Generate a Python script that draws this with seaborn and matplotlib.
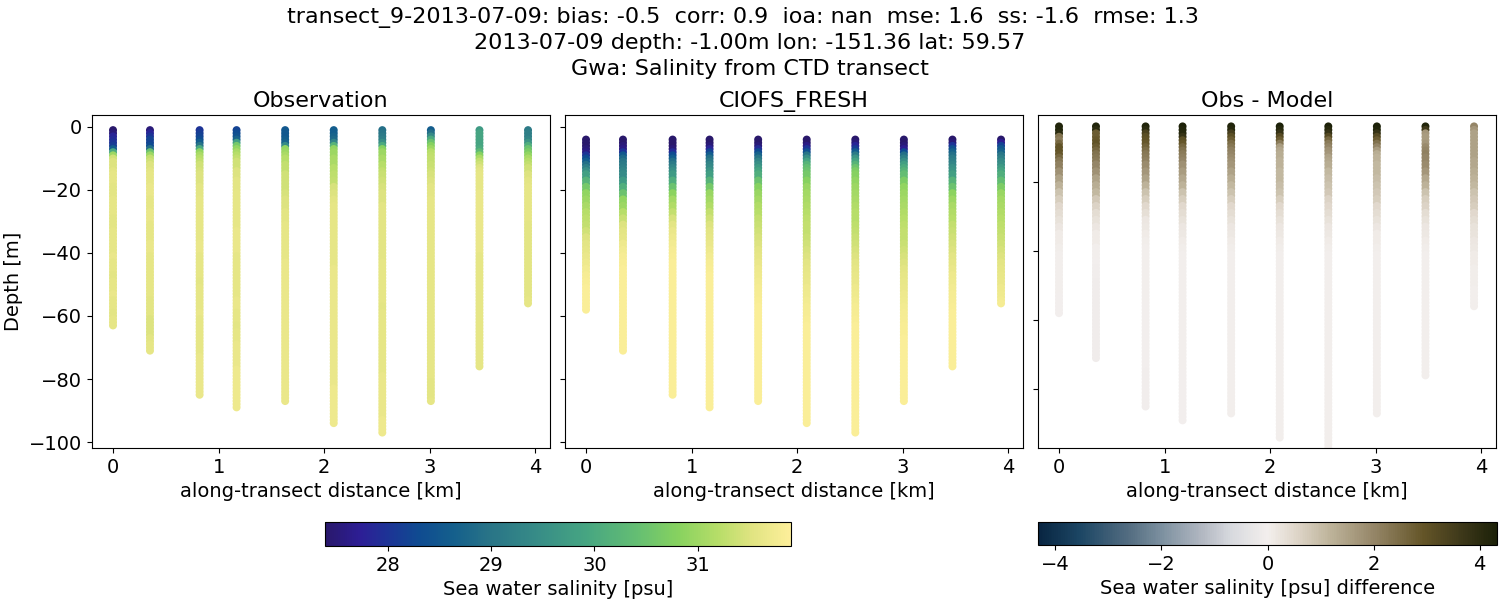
import matplotlib
matplotlib.use('Agg')
import matplotlib.pyplot as plt
from matplotlib.cm import ScalarMappable
from matplotlib.colors import LinearSegmentedColormap, Normalize
import pandas as pd
import seaborn as sns

distance_km = [0.0, 0.35, 0.82, 1.17, 1.63, 2.09, 2.55, 3.01, 3.47, 3.93]
obs_bottom = [63, 71, 85, 89, 87, 94, 97, 87, 76, 56]
model_bottom = [58, 71, 85, 89, 87, 94, 97, 87, 76, 56]

obs_levels = [1, 2, 3, 4, 5, 6, 7, 8, 9, 10, 11, 12, 13, 14,
              15, 17, 19, 21, 23, 25, 27, 29, 31, 33, 35, 37, 39, 41, 43, 45, 47, 49, 51, 53, 55,
              57, 59, 61, 63, 65, 67, 69, 71, 73, 75, 77, 79, 81, 83, 85, 87, 89, 91, 93, 95, 97]
model_levels = [4, 5, 6, 7, 8, 9, 10, 11, 12, 13, 14,
                15, 17, 19, 21, 23, 25, 27, 29, 31, 33, 35, 37, 39, 41, 43, 45, 47, 49, 51, 53, 55,
                57, 59, 61, 63, 65, 67, 69, 71, 73, 75, 77, 79, 81, 83, 85, 87, 89, 91, 93, 95, 97]

# salinity, one list per station, shallow to deep
# each value holds from its level down to the next level
obs_salinity = [
    [27.4, 27.5, 27.8, 27.9, 28.0, 28.1, 28.6, 30.0, 31.0, 31.4, 31.5, 31.5, 31.5, 31.55,
     31.6, 31.6, 31.55, 31.55, 31.6, 31.6, 31.6, 31.55, 31.55, 31.6,
     31.6, 31.6, 31.6, 31.65, 31.6, 31.6, 31.55, 31.6, 31.6, 31.65,
     31.6, 31.6, 31.55, 31.6, 31.6],
    [27.5, 27.8, 28.0, 28.2, 28.2, 28.3, 28.9, 30.5, 31.0, 31.3, 31.4, 31.5, 31.5, 31.55,
     31.6, 31.6, 31.65, 31.65, 31.6, 31.6, 31.65, 31.65, 31.6, 31.6,
     31.6, 31.65, 31.65, 31.6, 31.6, 31.6, 31.6, 31.6, 31.6, 31.6,
     31.55, 31.55, 31.55, 31.5, 31.5, 31.5, 31.55, 31.6, 31.6],
    [28.0, 28.1, 28.2, 28.3, 28.6, 29.0, 30.0, 30.9, 31.1, 31.2, 31.3, 31.4, 31.4, 31.45,
     31.5, 31.5, 31.55, 31.55, 31.6, 31.6, 31.6, 31.6, 31.6, 31.6,
     31.6, 31.65, 31.65, 31.6, 31.6, 31.6, 31.6, 31.55, 31.6, 31.6,
     31.6, 31.6, 31.65, 31.6, 31.6, 31.6, 31.6, 31.6, 31.6, 31.65,
     31.65, 31.65, 31.65, 31.65, 31.65, 31.65],
    [28.2, 28.3, 28.4, 28.7, 29.8, 30.6, 30.9, 31.1, 31.2, 31.3, 31.4, 31.4, 31.4, 31.5,
     31.5, 31.55, 31.55, 31.6, 31.6, 31.6, 31.6, 31.6, 31.6, 31.65,
     31.65, 31.65, 31.65, 31.6, 31.6, 31.6, 31.6, 31.6, 31.6, 31.6,
     31.65, 31.65, 31.6, 31.6, 31.55, 31.6, 31.6, 31.65, 31.65, 31.65,
     31.65, 31.7, 31.7, 31.7, 31.7, 31.7, 31.7, 31.7],
    [28.5, 28.5, 28.5, 28.6, 28.7, 29.4, 30.9, 31.0, 31.1, 31.2, 31.2, 31.3, 31.3, 31.3,
     31.4, 31.4, 31.4, 31.45, 31.5, 31.5, 31.55, 31.55, 31.6, 31.6,
     31.6, 31.6, 31.6, 31.6, 31.65, 31.65, 31.65, 31.65, 31.65, 31.65,
     31.65, 31.65, 31.65, 31.65, 31.65, 31.65, 31.65, 31.65, 31.65, 31.65,
     31.65, 31.65, 31.65, 31.65, 31.65, 31.65, 31.65],
    [28.6, 28.6, 28.7, 28.8, 29.3, 30.2, 30.9, 31.0, 31.0, 31.1, 31.1, 31.1, 31.2, 31.2,
     31.25, 31.3, 31.45, 31.5, 31.55, 31.6, 31.6, 31.6, 31.6, 31.6,
     31.6, 31.6, 31.6, 31.6, 31.6, 31.65, 31.65, 31.65, 31.65, 31.65,
     31.65, 31.65, 31.65, 31.65, 31.65, 31.65, 31.65, 31.65, 31.65, 31.65,
     31.65, 31.65, 31.65, 31.65, 31.7, 31.7, 31.7, 31.7, 31.7, 31.7, 31.7],
    [28.9, 29.0, 29.1, 29.2, 29.5, 30.0, 30.8, 31.0, 31.0, 31.1, 31.1, 31.2, 31.2, 31.3,
     31.35, 31.4, 31.45, 31.5, 31.5, 31.55, 31.55, 31.55, 31.55, 31.55,
     31.55, 31.55, 31.55, 31.55, 31.6, 31.6, 31.6, 31.6, 31.6, 31.6,
     31.6, 31.55, 31.6, 31.6, 31.6, 31.6, 31.6, 31.6, 31.6, 31.6,
     31.6, 31.6, 31.65, 31.65, 31.65, 31.65, 31.65, 31.65, 31.65, 31.7,
     31.7, 31.7],
    [28.6, 28.9, 29.4, 30.0, 30.5, 30.8, 31.0, 31.2, 31.25, 31.3, 31.3, 31.35, 31.35, 31.4,
     31.45, 31.5, 31.55, 31.55, 31.6, 31.6, 31.6, 31.6, 31.6, 31.6,
     31.6, 31.6, 31.6, 31.6, 31.6, 31.6, 31.6, 31.6, 31.6, 31.6,
     31.6, 31.6, 31.6, 31.6, 31.6, 31.6, 31.6, 31.6, 31.6, 31.6,
     31.6, 31.6, 31.6, 31.55, 31.55, 31.55, 31.6],
    [29.7, 29.9, 29.9, 29.9, 29.9, 29.9, 30.0, 30.3, 30.8, 31.1, 31.3, 31.4, 31.5, 31.55,
     31.6, 31.6, 31.6, 31.65, 31.65, 31.65, 31.65, 31.65, 31.65, 31.65,
     31.65, 31.65, 31.65, 31.6, 31.6, 31.6, 31.6, 31.6, 31.6, 31.6,
     31.6, 31.6, 31.6, 31.6, 31.6, 31.6, 31.6, 31.6, 31.6, 31.6,
     31.6, 31.6],
    [29.1, 29.2, 29.2, 29.3, 29.6, 30.1, 30.5, 30.7, 30.9, 31.1, 31.2, 31.3, 31.4, 31.4,
     31.5, 31.55, 31.6, 31.6, 31.6, 31.6, 31.6, 31.6, 31.55, 31.55,
     31.55, 31.55, 31.55, 31.55, 31.55, 31.55, 31.55, 31.55, 31.55, 31.55,
     31.6, 31.6],
]

model_salinity = [
    [27.4, 27.4, 27.4, 27.5, 27.6, 28.0, 28.3, 28.6, 28.9, 29.2, 29.5,
     29.8, 30.2, 30.6, 30.9, 31.0, 31.1, 31.2, 31.25, 31.3, 31.4,
     31.5, 31.55, 31.6, 31.65, 31.7, 31.75, 31.8, 31.82, 31.85, 31.85,
     31.85, 31.85, 31.85],
    [27.4, 27.4, 27.5, 27.6, 28.0, 28.5, 28.8, 29.0, 29.1, 29.2, 29.3,
     29.4, 29.7, 30.1, 30.5, 30.9, 31.0, 31.2, 31.35, 31.5, 31.55,
     31.6, 31.7, 31.75, 31.8, 31.82, 31.85, 31.85, 31.85, 31.85, 31.85,
     31.85, 31.85, 31.85, 31.85, 31.85, 31.85, 31.85, 31.85, 31.85],
    [27.4, 27.4, 27.4, 27.5, 27.9, 28.3, 28.6, 28.9, 29.1, 29.3, 29.5,
     29.7, 30.1, 30.5, 30.85, 31.05, 31.15, 31.3, 31.45, 31.55, 31.65,
     31.7, 31.75, 31.8, 31.82, 31.85, 31.85, 31.85, 31.85, 31.85, 31.85,
     31.85, 31.85, 31.85, 31.85, 31.85, 31.85, 31.85, 31.85, 31.85, 31.85,
     31.85, 31.85, 31.85, 31.85, 31.85, 31.85],
    [27.4, 27.4, 27.5, 27.8, 28.2, 28.6, 28.9, 29.1, 29.3, 29.4, 29.6,
     29.8, 30.2, 30.6, 30.95, 31.05, 31.15, 31.3, 31.4, 31.5, 31.55,
     31.6, 31.65, 31.7, 31.75, 31.8, 31.82, 31.85, 31.85, 31.85, 31.85,
     31.85, 31.85, 31.85, 31.85, 31.85, 31.85, 31.85, 31.85, 31.85, 31.85,
     31.85, 31.85, 31.85, 31.85, 31.85, 31.85, 31.85, 31.85],
    [27.4, 27.4, 27.5, 27.9, 28.3, 28.7, 29.0, 29.3, 29.5, 29.7, 29.9,
     30.1, 30.5, 30.8, 30.95, 31.05, 31.15, 31.2, 31.3, 31.35, 31.4,
     31.45, 31.5, 31.55, 31.6, 31.65, 31.7, 31.72, 31.75, 31.78, 31.8,
     31.82, 31.85, 31.85, 31.85, 31.85, 31.85, 31.85, 31.85, 31.85, 31.85,
     31.85, 31.85, 31.85, 31.85, 31.85, 31.85, 31.85],
    [27.4, 27.4, 27.6, 28.0, 28.4, 29.0, 29.5, 29.9, 30.2, 30.4, 30.5,
     30.6, 30.8, 30.95, 31.05, 31.1, 31.15, 31.2, 31.25, 31.3, 31.3,
     31.35, 31.4, 31.45, 31.5, 31.55, 31.6, 31.62, 31.65, 31.7, 31.72,
     31.75, 31.78, 31.8, 31.82, 31.85, 31.85, 31.85, 31.85, 31.85, 31.85,
     31.85, 31.85, 31.85, 31.85, 31.85, 31.85, 31.85, 31.85, 31.85, 31.85,
     31.85],
    [27.4, 27.5, 27.8, 28.1, 28.6, 29.1, 29.6, 29.9, 30.2, 30.5, 30.7,
     30.8, 30.9, 31.0, 31.05, 31.1, 31.15, 31.2, 31.2, 31.25, 31.3,
     31.35, 31.4, 31.45, 31.5, 31.55, 31.6, 31.62, 31.65, 31.7, 31.72,
     31.75, 31.78, 31.8, 31.82, 31.85, 31.85, 31.85, 31.85, 31.85, 31.85,
     31.85, 31.85, 31.85, 31.85, 31.85, 31.85, 31.85, 31.85, 31.85, 31.85,
     31.85, 31.85],
    [27.4, 27.4, 27.5, 27.7, 28.3, 28.9, 29.2, 29.5, 29.8, 30.0, 30.2,
     30.4, 30.7, 30.9, 31.0, 31.05, 31.1, 31.15, 31.2, 31.25, 31.3,
     31.3, 31.35, 31.4, 31.45, 31.5, 31.55, 31.6, 31.62, 31.65, 31.7,
     31.72, 31.75, 31.78, 31.8, 31.82, 31.82, 31.85, 31.85, 31.85, 31.85,
     31.85, 31.85, 31.85, 31.85, 31.85, 31.85, 31.85],
    [27.4, 27.5, 28.0, 28.4, 28.7, 28.9, 29.1, 29.2, 29.3, 29.5, 29.6,
     29.8, 30.2, 30.5, 30.85, 31.0, 31.1, 31.15, 31.2, 31.3, 31.35,
     31.4, 31.45, 31.5, 31.55, 31.6, 31.65, 31.7, 31.72, 31.75, 31.78,
     31.8, 31.82, 31.85, 31.85, 31.85, 31.85, 31.85, 31.85, 31.85, 31.85,
     31.85, 31.85],
    [27.4, 27.7, 28.2, 28.5, 28.7, 29.0, 29.2, 29.4, 29.5, 29.7, 29.9,
     30.1, 30.4, 30.7, 30.95, 31.05, 31.1, 31.15, 31.2, 31.25, 31.3,
     31.35, 31.4, 31.45, 31.5, 31.55, 31.6, 31.62, 31.65, 31.7, 31.72,
     31.75, 31.78],
]

diff_salinity = [
    [4.2, 4.2, 4.0, 2.4, 2.2, 2.6, 3.0, 3.0, 2.9, 2.6, 2.3,
     2.1, 1.8, 1.5, 1.2, 0.9, 0.7, 0.5, 0.4, 0.3, 0.2,
     0.1, 0.1, 0.05, 0.0, 0.0, 0.0, 0.0, 0.0, 0.0, -0.02,
     -0.02, -0.02, -0.02],
    [4.2, 4.0, 2.8, 2.8, 2.9, 3.0, 2.8, 2.6, 2.4, 2.3, 2.2,
     2.0, 1.8, 1.5, 1.3, 1.1, 0.8, 0.6, 0.4, 0.3, 0.2,
     0.1, 0.1, 0.0, 0.0, -0.02, -0.05, -0.05, -0.08, -0.08, -0.08,
     -0.1, -0.1, -0.1, -0.1, -0.1, -0.1, -0.1, -0.1, -0.1],
    [4.2, 4.0, 3.4, 3.1, 3.0, 2.9, 2.7, 2.5, 2.3, 2.2, 2.1,
     1.9, 1.7, 1.5, 1.2, 0.9, 0.7, 0.5, 0.35, 0.2, 0.15,
     0.1, 0.05, 0.02, 0.02, 0.02, 0.02, 0.0, 0.0, 0.0, 0.0,
     -0.02, -0.02, -0.02, -0.02, -0.02, -0.02, -0.02, -0.02, -0.02, -0.02,
     -0.05, -0.05, -0.05, -0.05, -0.05, -0.05],
    [4.3, 4.2, 4.1, 3.8, 3.1, 2.9, 2.6, 2.4, 2.2, 2.1, 2.0,
     1.8, 1.6, 1.4, 1.2, 0.9, 0.7, 0.5, 0.4, 0.3, 0.2,
     0.15, 0.1, 0.05, 0.02, 0.02, 0.02, 0.02, 0.02, 0.02, 0.02,
     0.0, 0.0, 0.0, 0.0, 0.0, 0.0, 0.0, 0.0, 0.0, 0.0,
     -0.02, -0.02, -0.02, -0.02, -0.02, -0.02, -0.02, -0.02],
    [4.2, 4.1, 3.5, 3.1, 2.8, 2.5, 2.3, 2.1, 2.0, 1.9, 1.8,
     1.7, 1.5, 1.3, 1.1, 0.9, 0.7, 0.5, 0.4, 0.3, 0.2,
     0.15, 0.1, 0.05, 0.02, 0.02, 0.02, 0.02, 0.02, 0.02, 0.02,
     0.0, 0.0, 0.0, 0.0, 0.0, 0.0, 0.0, 0.0, 0.0, 0.0,
     0.0, 0.0, 0.0, 0.0, 0.0, 0.0, 0.0],
    [4.3, 4.1, 3.8, 3.2, 2.8, 2.2, 1.6, 1.4, 1.3, 1.3, 1.2,
     1.2, 1.1, 1.1, 1.0, 0.9, 0.7, 0.5, 0.4, 0.3, 0.2,
     0.15, 0.1, 0.05, 0.02, 0.02, 0.02, 0.02, 0.02, 0.02, 0.02,
     0.0, 0.0, 0.0, 0.0, 0.0, 0.0, 0.0, 0.0, 0.0, 0.0,
     0.0, 0.0, 0.0, 0.0, 0.0, 0.0, 0.0, 0.0, 0.0, 0.0,
     0.0],
    [4.3, 4.1, 3.8, 3.2, 2.6, 2.2, 2.0, 1.8, 1.7, 1.5, 1.4,
     1.3, 1.1, 1.0, 0.9, 0.8, 0.6, 0.5, 0.4, 0.3, 0.2,
     0.15, 0.1, 0.05, 0.02, 0.02, 0.02, 0.02, 0.02, 0.02, 0.02,
     0.0, 0.0, 0.0, 0.0, 0.0, 0.0, 0.0, 0.0, 0.0, 0.0,
     0.0, 0.0, 0.0, 0.0, 0.0, 0.0, 0.0, 0.0, 0.0, 0.0,
     0.0, 0.0],
    [4.3, 4.2, 3.8, 3.2, 2.8, 2.4, 2.0, 1.6, 1.3, 1.2, 1.2,
     1.1, 1.1, 1.0, 0.9, 0.8, 0.7, 0.5, 0.4, 0.3, 0.2,
     0.1, 0.1, 0.05, 0.02, 0.02, 0.02, 0.02, 0.02, 0.02, 0.02,
     0.0, 0.0, 0.0, 0.0, 0.0, 0.0, 0.0, 0.0, 0.0, 0.0,
     0.0, 0.0, 0.0, 0.0, 0.0, 0.0, 0.0],
    [4.2, 3.6, 1.7, 1.6, 1.6, 1.7, 1.9, 2.0, 2.1, 2.0, 2.0,
     1.9, 1.7, 1.4, 1.2, 0.9, 0.7, 0.6, 0.4, 0.3, 0.2,
     0.15, 0.1, 0.05, 0.02, 0.02, 0.02, 0.02, 0.02, 0.02, 0.02,
     0.0, 0.0, 0.0, 0.0, 0.0, 0.0, 0.0, 0.0, 0.0, 0.0,
     0.0, 0.0],
    [2.0, 1.7, 1.5, 1.5, 1.5, 1.5, 1.5, 1.5, 1.5, 1.5, 1.4,
     1.4, 1.3, 1.2, 1.1, 0.9, 0.8, 0.7, 0.5, 0.4, 0.3,
     0.25, 0.2, 0.15, 0.1, 0.1, 0.05, 0.05, 0.05, 0.0, 0.0,
     0.0, 0.0],
]

haline_colors = [(0.0, (41, 24, 107)), (0.075, (45, 30, 150)), (0.13, (30, 50, 150)), (0.2, (15, 75, 145)),
                 (0.275, (20, 95, 140)), (0.35, (40, 115, 135)), (0.455, (55, 140, 135)), (0.56, (70, 165, 130)),
                 (0.67, (100, 190, 115)), (0.76, (135, 210, 95)), (0.85, (185, 222, 105)), (0.92, (225, 228, 130)),
                 (1.0, (253, 239, 154))]
diff_colors = [(0.0, (8, 37, 65)), (0.09, (28, 70, 100)), (0.2, (85, 110, 130)), (0.27, (125, 145, 160)),
               (0.36, (180, 185, 195)), (0.42, (215, 217, 222)), (0.5, (243, 239, 237)), (0.565, (222, 213, 200)),
               (0.636, (190, 180, 155)), (0.73, (150, 135, 105)), (0.84, (100, 85, 40)), (0.927, (60, 55, 25)),
               (1.0, (28, 33, 8))]


def make_cmap(name, stops):
    return LinearSegmentedColormap.from_list(name, [(p, tuple(c / 255 for c in rgb)) for p, rgb in stops], N=256)


def station_table(values, levels, bottoms):
    rows = []
    for dist, bottom, profile in zip(distance_km, bottoms, values):
        depths = levels[:len(profile) - 1] + [bottom]
        ends = depths[1:] + [bottom + 1]
        for start, end, val in zip(depths, ends, profile):
            # one dot a metre so the column comes out solid
            for depth in range(start, end):
                rows.append({'distance': dist, 'depth': -depth, 'value': val})
    return pd.DataFrame(rows)


haline = make_cmap('haline', haline_colors)
diff = make_cmap('diff', diff_colors)
sal_norm = Normalize(27.39, 31.90)
diff_norm = Normalize(-4.33, 4.33)

W, H = 1500, 600
fig = plt.figure(figsize=(15, 6), dpi=100)


def px_axes(left, top, right, bottom):
    return fig.add_axes([left / W, 1 - bottom / H, (right - left) / W, (bottom - top) / H])


ax1 = px_axes(92, 115, 550, 448)
ax2 = px_axes(565, 115, 1023, 448)
ax3 = px_axes(1038, 115, 1496, 448)

panels = [
    (ax1, station_table(obs_salinity, obs_levels, obs_bottom), haline, sal_norm, 'Observation'),
    (ax2, station_table(model_salinity, model_levels, model_bottom), haline, sal_norm, 'CIOFS_FRESH'),
    (ax3, station_table(diff_salinity, model_levels, model_bottom), diff, diff_norm, 'Obs - Model'),
]
for ax, table, cmap, norm, title in panels:
    sns.scatterplot(data=table, x='distance', y='depth', hue='value', palette=cmap, hue_norm=norm,
                    s=33, linewidth=0, legend=False, ax=ax)
    ax.set_xlim(-0.199, 4.138)
    ax.set_xticks([0, 1, 2, 3, 4])
    ax.set_xlabel('along-transect distance [km]', fontsize=14)
    ax.set_ylabel('')
    ax.set_title(title, fontsize=16, pad=6)
    ax.tick_params(labelsize=14)

ax1.set_ylim(-101.9, 3.8)
ax2.set_ylim(-101.9, 3.8)
ax3.set_ylim(-97.0, -0.7)
ax1.set_yticks([0, -20, -40, -60, -80, -100])
ax2.set_yticks([0, -20, -40, -60, -80, -100])
ax3.set_yticks([-20, -40, -60, -80])
ax2.set_yticklabels([])
ax3.set_yticklabels([])
ax1.set_ylabel('Depth [m]', fontsize=14)

cax1 = px_axes(325, 522, 790.5, 546)
cb1 = fig.colorbar(ScalarMappable(norm=sal_norm, cmap=haline), cax=cax1, orientation='horizontal')
cb1.set_ticks([28, 29, 30, 31])
cb1.ax.tick_params(labelsize=14)
cb1.set_label('Sea water salinity [psu]', fontsize=14)

cax2 = px_axes(1038, 522, 1497, 545)
cb2 = fig.colorbar(ScalarMappable(norm=diff_norm, cmap=diff), cax=cax2, orientation='horizontal')
cb2.set_ticks([-4, -2, 0, 2, 4])
cb2.ax.tick_params(labelsize=14)
cb2.set_label('Sea water salinity [psu] difference', fontsize=14)

fig.suptitle('transect_9-2013-07-09: bias: -0.5  corr: 0.9  ioa: nan  mse: 1.6  ss: -1.6  rmse: 1.3  \n'
             '2013-07-09 depth: -1.00m lon: -151.36 lat: 59.57\n'
             'Gwa: Salinity from CTD transect', fontsize=16, y=0.989, linespacing=1.35)

fig.savefig('out.png', dpi=100)
